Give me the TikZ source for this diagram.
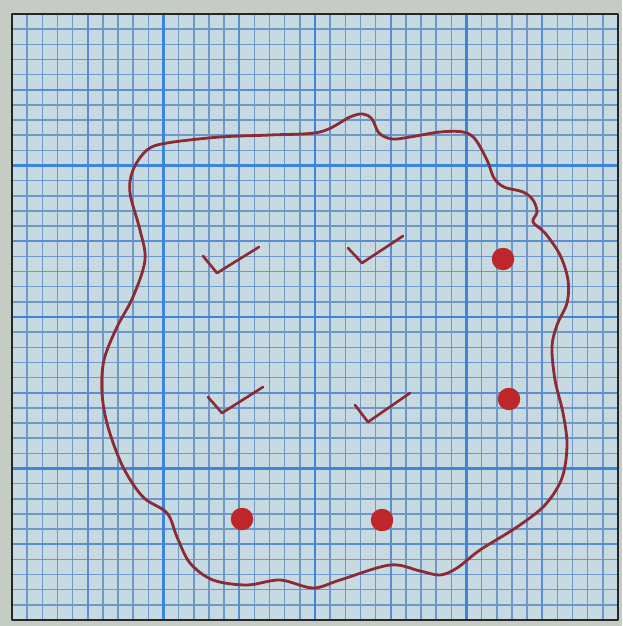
\documentclass[tikz,border=0pt]{standalone}
\usepackage{xcolor}
\definecolor{desk}{HTML}{C5CCC3}
\definecolor{paper}{HTML}{C8DAE1}
\definecolor{fineline}{HTML}{6F97C8}
\definecolor{halfline}{HTML}{5A8ECF}
\definecolor{majorline}{HTML}{3C85D8}
\definecolor{ink}{HTML}{8B2B35}
\definecolor{dotred}{HTML}{BE2629}

\begin{document}
\begin{tikzpicture}[x=0.04cm, y=-0.04cm, line join=round]
    \tikzset{
      fine/.style={draw=fineline, line width=1.7pt},
      half/.style={draw=halfline, line width=2.3pt},
      major/.style={draw=majorline, line width=3.2pt},
      tick/.style={draw=ink, line width=3pt, line cap=round},
      spot/.style={circle, fill=dotred, inner sep=0pt, minimum size=0.9cm},
    }
    \fill[desk] (0,0) rectangle (622,626);
    \useasboundingbox (0,0) rectangle (622,626);
    \fill[paper] (12,14) rectangle (618,620);

    % grid of the paper
    \foreach \i in {1,...,39} {
      \draw[fine] ({12+15.15*\i},14) -- ({12+15.15*\i},620);
      \draw[fine] (12,{14+15.15*\i}) -- (618,{14+15.15*\i});
    }
    \foreach \i in {5,15,25,35} {
      \draw[half] ({12+15.15*\i},14) -- ({12+15.15*\i},620);
      \draw[half] (12,{14+15.15*\i}) -- (618,{14+15.15*\i});
    }
    \foreach \i in {10,20,30} {
      \draw[major] ({12+15.15*\i},14) -- ({12+15.15*\i},620);
      \draw[major] (12,{14+15.15*\i}) -- (618,{14+15.15*\i});
    }
    \draw[black!85, line width=3pt] (12,14) rectangle (618,620);

    % the closed region
    \draw[ink, line width=3.2pt] plot[smooth cycle, tension=0.55] coordinates {
      (147,150) (167,143) (220,137) (270,135) (320,132) (350,117) (363,114)
      (372,119) (379,133) (392,139) (410,137) (440,132) (463,132) (475,139)
      (487,160) (494,178) (504,187) (523,192) (533,200) (537,212) (533,222)
      (545,233) (560,255) (568,280) (567,303) (557,325) (552,347) (555,380)
      (563,413) (567,445) (562,478) (545,505) (517,527) (480,550) (457,568)
      (440,575) (420,571) (390,565) (340,580) (313,588) (280,580) (247,585)
      (213,580) (190,563) (177,537) (167,513) (143,497) (123,467) (108,427)
      (102,393) (104,360) (117,327) (133,297) (145,260) (140,230) (130,193)
      (133,170)
    };

    % ticks
    \draw[tick] (203,256) -- (217,273) -- (259,247);
    \draw[tick] (348,248) -- (362,263) -- (403,236);
    \draw[tick] (208,397) -- (222,413) -- (263,387);
    \draw[tick] (355,405) -- (368,422) -- (410,393);

    % dots
    \node[spot] (dotA) at (503,259) {};
    \node[spot] (dotB) at (509,399) {};
    \node[spot] (dotC) at (242,519) {};
    \node[spot] (dotD) at (382,520) {};
  \end{tikzpicture}
\end{document}
